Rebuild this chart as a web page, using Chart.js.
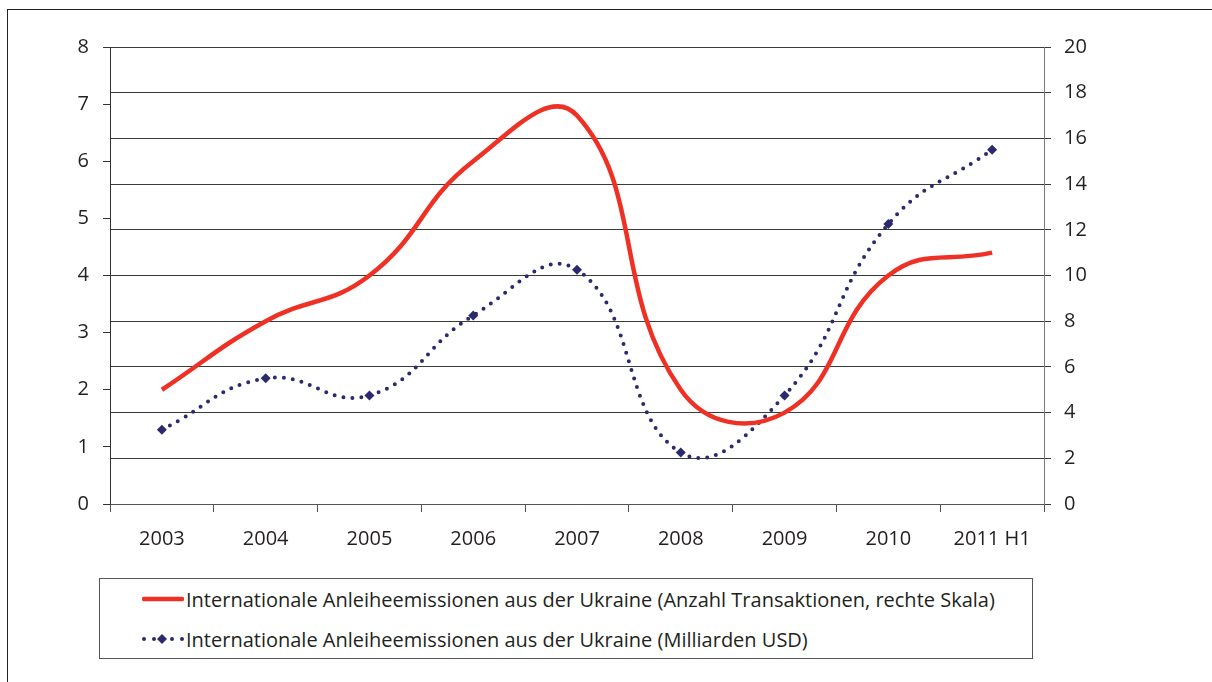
<!DOCTYPE html>
<html>
<head>
<meta charset="utf-8">
<script src="https://cdn.jsdelivr.net/npm/chart.js@4/dist/chart.umd.min.js"></script>
<style>
  body { margin: 0; background: #fff; font-family: 'Open Sans', sans-serif; color: #231f20; }
  #frame { position: absolute; left: 7px; top: 9px; width: 1205px; height: 673px; border-left: 1px solid #222; border-top: 1px solid #222; }
  #wrap { position: absolute; left: 0; top: 0; width: 1212px; height: 570px; }
  #legend { position: absolute; left: 99px; top: 578px; width: 934px; height: 81px; border: 1px solid #555; box-sizing: border-box; }
  .item { position: absolute; left: 42px; height: 24px; display: flex; align-items: center; font-size: 20px; white-space: nowrap; }
  .item svg { margin-right: 2px; }
</style>
</head>
<body>
<div id="frame"></div>
<div id="wrap"><canvas id="chart"></canvas></div>
<div id="legend"></div>
<script>
const categories = ['2003', '2004', '2005', '2006', '2007', '2008', '2009', '2010', '2011 H1'];
// Anzahl Transaktionen (rechte Skala)
const transactions = [5, 8, 10, 15, 17, 5, 4, 10, 11];
// Milliarden USD (linke Skala)
const volumeUsd = [1.3, 2.2, 1.9, 3.3, 4.1, 0.9, 1.9, 4.9, 6.2];
const seriesLabels = [
  'Internationale Anleiheemissionen aus der Ukraine (Anzahl Transaktionen, rechte Skala)',
  'Internationale Anleiheemissionen aus der Ukraine (Milliarden USD)'
];
const leftTicks = [0, 8, 1];
const rightTicks = [0, 20, 2];

const RED = '#ee3124';
const NAVY = '#2b2a6e';
const TEXT = '#231f20';
const tickFont = { family: 'Open Sans', size: 20 };

const ctx = document.getElementById('chart').getContext('2d');
const chart = new Chart(ctx, {
  type: 'line',
  data: {
    labels: categories,
    datasets: [{
      label: seriesLabels[0],
      data: transactions,
      yAxisID: 'y1',
      borderColor: RED,
      backgroundColor: RED,
      borderWidth: 4.5,
      pointRadius: 0,
      tension: 0.45,
      fill: false,
    }, {
      label: seriesLabels[1],
      data: volumeUsd,
      yAxisID: 'y',
      borderColor: NAVY,
      backgroundColor: NAVY,
      borderWidth: 4,
      borderDash: [0, 9],
      borderCapStyle: 'round',
      pointStyle: 'rectRot',
      pointRadius: 5,
      pointBorderWidth: 0,
      pointBackgroundColor: NAVY,
      tension: 0.45,
      fill: false,
    }]
  },
  options: {
    responsive: true,
    maintainAspectRatio: false,
    animation: false,
    layout: { padding: { top: 47, left: 0, right: 0, bottom: 0 } },
    plugins: {
      legend: { display: false },
      tooltip: { enabled: false },
    },
    scales: {
      x: {
        offset: true,
        grid: { offset: true, drawOnChartArea: false, drawTicks: true, tickLength: 8, color: '#555' },
        border: { color: '#555' },
        ticks: { color: TEXT, font: tickFont, padding: 15, maxRotation: 0 },
        afterFit(s) { s.height = 66; },
      },
      y: {
        position: 'left',
        min: leftTicks[0],
        max: leftTicks[1],
        grid: { drawOnChartArea: false, tickLength: 7, color: '#333' },
        border: { color: '#333' },
        ticks: { stepSize: leftTicks[2], color: TEXT, font: tickFont, padding: 14 },
        afterFit(s) { s.width = 110; },
      },
      y1: {
        position: 'right',
        min: rightTicks[0],
        max: rightTicks[1],
        grid: { drawOnChartArea: true, tickLength: 7, color: '#3a3a3a' },
        border: { color: '#777' },
        ticks: { stepSize: rightTicks[2], color: TEXT, font: tickFont, padding: 13 },
        afterFit(s) { s.width = 168; },
      },
    },
  },
});

// legend below the chart, built from the datasets
const legend = document.getElementById('legend');
chart.data.datasets.forEach((ds, i) => {
  const row = document.createElement('div');
  row.className = 'item';
  row.style.top = (i === 0 ? 8 : 48) + 'px';
  let sample;
  if (i === 0) {
    sample = '<svg width="42" height="10"><line x1="2" y1="5" x2="40" y2="5" stroke="' + ds.borderColor + '" stroke-width="4.5" stroke-linecap="round"/></svg>';
  } else {
    sample = '<svg width="42" height="10">' +
      [2, 12, 30, 40].map(x => '<circle cx="' + x + '" cy="5" r="2" fill="' + ds.borderColor + '"/>').join('') +
      '<polygon points="20,0 25,5 20,10 15,5" fill="' + ds.borderColor + '"/></svg>';
  }
  row.innerHTML = sample + '<span>' + ds.label + '</span>';
  legend.appendChild(row);
});
</script>
</body>
</html>
